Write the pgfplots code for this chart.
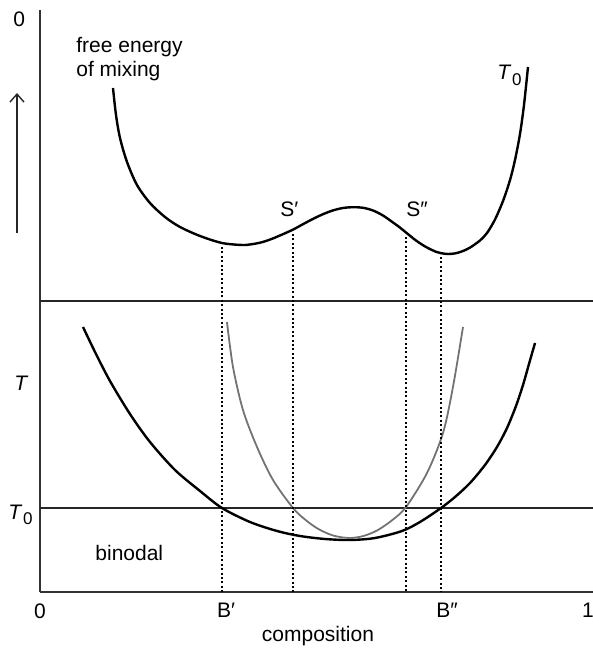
\documentclass[border=0pt]{standalone}
\usepackage{fontspec}
\setmainfont{Liberation Sans}
\usepackage{pgfplots}
\pgfplotsset{compat=1.18}
\usetikzlibrary{arrows.meta}

% composition runs from 0 to 1; the vertical scale is shared by the
% free-energy panel (upper half) and the temperature panel (lower half)
\newcommand{\Tnought}{\textit{T}\kern0.3pt\raisebox{-0.28em}{\fontsize{8.5pt}{9pt}\selectfont 0}}

\begin{document}
\fontsize{10.5pt}{12.6pt}\selectfont
\begin{tikzpicture}
\begin{axis}[
  scale only axis,
  width=276.5pt, height=291pt,
  xmin=0, xmax=1.00912,
  ymin=0, ymax=582,
  axis x line=bottom, axis y line=left,
  axis line style={-, line width=0.7pt, black!80},
  clip=false,
  xtick={0,0.3394,0.7427,1},
  xticklabels={0,B′,B″,1},
  major tick length=0pt,
  xticklabel style={yshift=-2pt},
  ytick=\empty,
  xlabel={composition},
  xlabel style={at={(axis description cs:0.5027,-0.0859)}, anchor=base, inner sep=0pt},
  tiedown/.style={black, line width=1pt, dash pattern=on 1pt off 1.2pt},
]
% panel divider and the T0 isotherm
\addplot[black!85, line width=0.6pt] coordinates {(0,291) (1.00912,291)};
\addplot[black!85, line width=0.6pt] coordinates {(0,84) (1.00912,84)};

% free energy of mixing at T0
\addplot[black, line width=1.2pt, smooth] coordinates {
  (0.1332,504) (0.1387,477) (0.1460,454) (0.1588,430) (0.1770,407)
  (0.2007,389) (0.2281,375) (0.2555,365) (0.2920,356) (0.3321,349)
  (0.3686,347) (0.3869,347.8) (0.4051,349.8) (0.4234,353.2) (0.4416,357.4)
  (0.4617,362.4) (0.4799,367.8) (0.4982,373.1) (0.5164,377.8) (0.5347,381.6)
  (0.5529,384.0) (0.5712,384.8) (0.5894,384.2) (0.6077,381.5) (0.6259,376.5)
  (0.6442,369.5) (0.6569,364.4) (0.6679,359.5) (0.6861,351.5) (0.7044,345)
  (0.7226,340.2) (0.7318,338.8) (0.7445,338) (0.7573,338.6) (0.7701,340.6)
  (0.7847,344.4) (0.8029,351.5) (0.8157,359) (0.8303,372.5) (0.8449,391)
  (0.8577,412) (0.8668,432) (0.8759,458) (0.8832,487) (0.8905,525)
};

% binodal
\addplot[black, line width=1.2pt, smooth] coordinates {
  (0.0785,265) (0.1004,240) (0.1277,211) (0.1642,178) (0.2007,150)
  (0.2464,122) (0.2920,101) (0.3321,84) (0.3832,70) (0.4325,61)
  (0.4745,56) (0.5201,53) (0.5657,52) (0.6113,54) (0.6606,61)
  (0.6934,70) (0.7318,84) (0.7573,95) (0.7847,109) (0.8120,127)
  (0.8339,145) (0.8522,164) (0.8686,186) (0.8814,207) (0.8923,228)
  (0.9033,249)
};

% spinodal
\addplot[black!55, line width=0.9pt, smooth] coordinates {
  (0.3412,270) (0.3522,225) (0.3704,182) (0.3960,145) (0.4252,112)
  (0.4617,84) (0.4836,72.5) (0.5073,63.2) (0.5347,56.5) (0.5639,54)
  (0.5894,55.9) (0.6150,61.5) (0.6423,71.7) (0.6679,85) (0.7062,119)
  (0.7354,159) (0.7536,205) (0.7719,265)
};

% tie-downs from the common-tangent and inflection points
\addplot[tiedown] coordinates {(0.3321,345) (0.3321,0)};
\addplot[tiedown] coordinates {(0.4617,358) (0.4617,0)};
\addplot[tiedown] coordinates {(0.6679,355) (0.6679,0)};
\addplot[tiedown] coordinates {(0.7318,335) (0.7318,0)};

% labels
\node[anchor=base west, inner sep=0pt] at (axis cs:-0.0493,565) {0};
\draw[-{Straight Barb[length=4pt,width=7pt]}, black!85, line width=0.7pt]
  (axis cs:-0.0420,359) -- (axis cs:-0.0420,499);
\node[anchor=base west, inner sep=0pt] at (axis cs:-0.0474,201) {\textit{T}};
\node[anchor=base west, inner sep=0pt] at (axis cs:-0.0584,73) {\Tnought};
\node[anchor=base west, inner sep=0pt] at (axis cs:0.0657,539) {free energy};
\node[anchor=base west, inner sep=0pt] at (axis cs:0.0657,515) {of mixing};
\node[anchor=base west, inner sep=0pt] at (axis cs:0.8339,512) {\Tnought};
\node[anchor=base west, inner sep=0pt] at (axis cs:0.4380,375) {S′};
\node[anchor=base west, inner sep=0pt] at (axis cs:0.6679,375) {S″};
\node[anchor=base west, inner sep=0pt] at (axis cs:0.1004,32) {binodal};

\coordinate (BL) at (axis cs:-0.07299,-56);
\coordinate (TR) at (axis cs:1.00912,592);
\end{axis}
\pgfresetboundingbox
\path[use as bounding box] (BL) rectangle (TR);
\end{tikzpicture}
\end{document}
